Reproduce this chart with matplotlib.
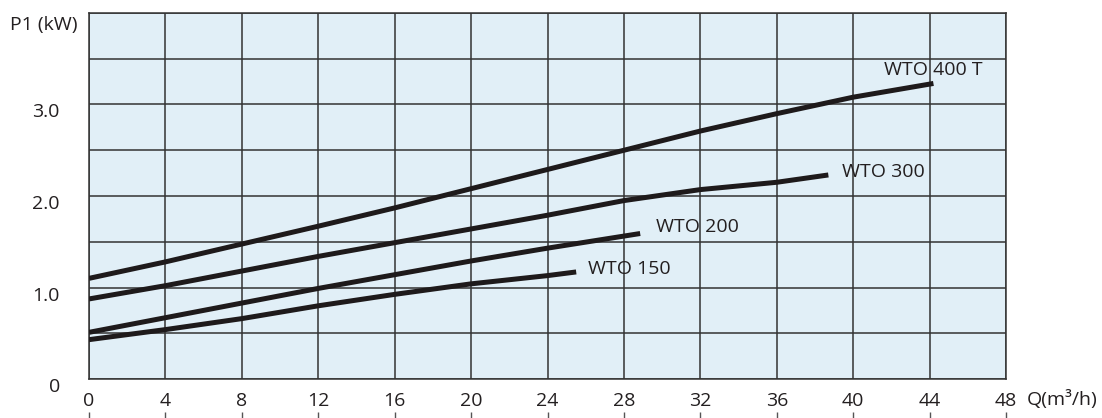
import numpy as np
import matplotlib.pyplot as plt
import matplotlib.transforms as mtransforms

plt.rcParams['font.family'] = ['Open Sans', 'DejaVu Sans']

# Power curves P1 (kW) vs flow Q (m3/h)
wto400_q = [0, 4, 8, 12, 16, 20, 24, 28, 32, 36, 40, 44.2]
wto400_p = [1.10, 1.28, 1.475, 1.67, 1.87, 2.08, 2.29, 2.50, 2.71, 2.90, 3.08, 3.23]

wto300_q = [0, 4, 8, 12, 16, 20, 24, 28, 32, 36, 38.7]
wto300_p = [0.875, 1.02, 1.18, 1.34, 1.49, 1.64, 1.79, 1.95, 2.07, 2.15, 2.23]

wto200_q = [0, 4, 8, 12, 16, 20, 24, 28.85]
wto200_p = [0.51, 0.67, 0.83, 0.99, 1.14, 1.29, 1.43, 1.59]

wto150_q = [0, 4, 8, 12, 16, 20, 24, 25.5]
wto150_p = [0.43, 0.54, 0.66, 0.80, 0.925, 1.04, 1.13, 1.17]

series = [
    (wto400_q, wto400_p, "WTO 400 T", 41.6, 3.38),
    (wto300_q, wto300_p, "WTO 300", 39.4, 2.26),
    (wto200_q, wto200_p, "WTO 200", 29.7, 1.66),
    (wto150_q, wto150_p, "WTO 150", 26.1, 1.20),
]

x_ticks = np.arange(0, 49, 4)
y_ticks = np.arange(0, 4.01, 0.5)
y_labels = ["0", "", "1.0", "", "2.0", "", "3.0", "", ""]

fs = 14

fig = plt.figure(figsize=(11.02, 4.18), dpi=100)
ax = fig.add_axes([0.0808, 0.0933, 0.8321, 0.8756])
ax.set_facecolor("#e1eff7")

for q, p, name, tx, ty in series:
    ax.plot(q, p, color="#1e1a1b", lw=3.6, solid_capstyle="butt", zorder=3)
    ax.text(tx, ty, name, fontsize=fs, color="#231f20", va="center", ha="left", zorder=4)

ax.set_xlim(0, 48)
ax.set_ylim(0, 4)
ax.set_xticks(x_ticks)
ax.set_xticklabels([str(v) for v in x_ticks])
ax.set_yticks(y_ticks)
ax.set_yticklabels(y_labels)
ax.grid(True, color="#333333", lw=1.1)
ax.set_axisbelow(True)
ax.tick_params(axis="both", length=0, labelsize=fs, colors="#231f20")
ax.tick_params(axis="x", pad=9)
ax.tick_params(axis="y", pad=21)
for s in ax.spines.values():
    s.set_color("#333333")
    s.set_linewidth(1.1)

# shift the y labels a little down, as in the reference
offset = mtransforms.ScaledTranslation(0, -6 / 100, fig.dpi_scale_trans)
for lab in ax.get_yticklabels():
    lab.set_transform(lab.get_transform() + offset)

# small tick marks below the x labels
sec = ax.secondary_xaxis(-0.09)
sec.set_xticks(x_ticks)
sec.set_xticklabels([])
sec.tick_params(direction="out", length=5, width=1, colors="#555555")
sec.spines["bottom"].set_visible(False)

fig.text(10 / 1102, 1 - 25 / 418, "P1 (kW)", fontsize=fs, color="#231f20", va="center", ha="left")
fig.text(1027 / 1102, 1 - 399 / 418, "Q(m³/h)", fontsize=fs, color="#231f20", va="center", ha="left")

fig.savefig("out.png", dpi=100)
